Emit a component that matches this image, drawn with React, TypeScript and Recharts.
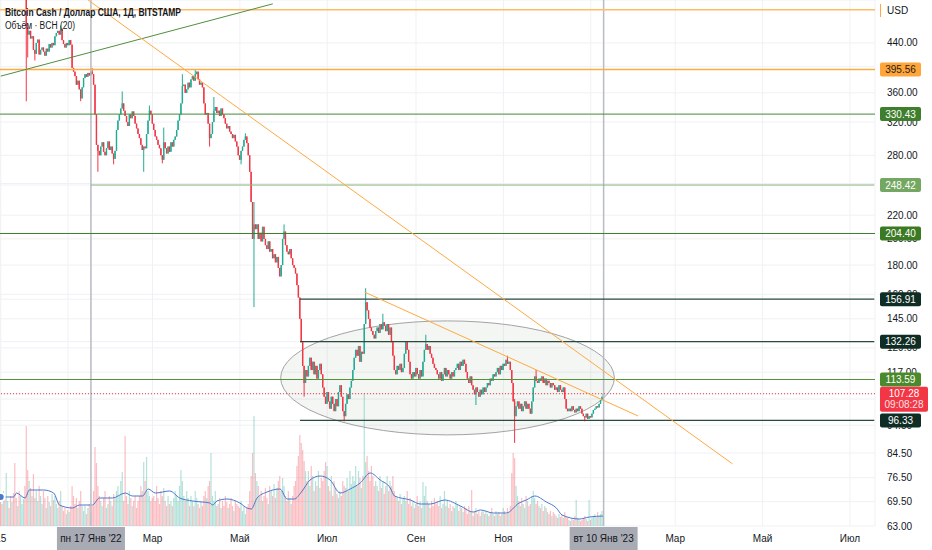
import React from "react";
import {
  ComposedChart,
  Bar,
  Line,
  XAxis,
  YAxis,
  CartesianGrid,
  ReferenceLine,
  ReferenceArea,
} from "recharts";

// дневные свечи BCH/USD, индекс 0 = 15 ноя 2021
const FIRST_OPEN = 622;
const TOTAL_DAYS = 611;

const closes = [
  598, 560, 565, 535, 548, 560, 556, 540, 566,
  555, 538, 530, 540, 532, 548, 560, 572, 545,
  468,
  455, 462, 448, 452, 428, 421, 440, 446, 420, 428,
  432, 425, 418, 430, 425, 438, 432, 440, 436,
  452, 458, 462, 455, 466, 445,
  438, 432, 440, 436, 445, 437,
  398,
  392, 385, 372, 378, 365, 352, 368,
  382, 388, 384, 390, 386, 392, 388,
  372, 330, 292, 285, 280,
  290, 295, 284, 280, 288, 296, 286, 290, 282, 276, 285,
  310, 322, 330, 338, 345, 335, 328,
  320, 315, 330, 325, 334, 328, 318, 312,
  305, 300, 292, 286, 290, 288, 305, 322, 335, 330, 318,
  310, 302, 298, 292, 288, 280, 275, 295, 288, 282, 290, 284,
  295, 290, 298, 302, 310, 322, 330,
  345, 370, 372, 360, 365, 375, 368,
  380, 385, 378, 388, 392, 380, 372, 375, 368,
  345, 330, 332, 318, 300, 305, 320, 335, 340, 332,
  335, 328, 338, 330, 325, 318, 312, 315, 308, 305, 300, 304, 296, 290,
  280, 275, 285, 290, 298, 302, 294, 280, 262, 232, 200, 212,
  208, 212, 200, 205, 198, 210, 200, 195, 192, 198, 190,
  192, 185, 188, 182, 186, 178, 172, 180, 200, 206,
  195, 190, 188, 192, 185, 180, 178, 174,
  166, 158, 145, 132, 120, 112, 118,
  115, 120, 124, 118, 122, 116, 120, 114, 118, 121, 116,
  110, 106, 103, 108, 104, 101, 106, 103, 100, 105, 102,
  108, 111, 106, 100, 98, 103, 107, 105, 110, 113,
  118, 124, 128, 125, 130, 122, 127, 126, 142, 155,
  150, 145, 140, 138, 136, 134, 138,
  140, 137, 142, 139, 143, 141, 138, 142, 136, 140,
  132, 125, 118, 116, 120, 118, 121, 117, 119,
  126, 132, 128, 122, 116, 114, 117, 115, 119, 116, 114, 118, 115,
  122, 128, 131, 128, 130, 126, 124, 121, 119, 118,
  116, 114, 117, 113, 116, 119, 115, 118, 116,
  114, 117, 115, 118, 119, 121, 118, 122, 120, 123, 121,
  117, 114, 112, 115, 111, 109, 107, 110, 108, 106, 109, 107, 110, 108,
  110, 112, 111, 114, 113, 116, 115, 117, 119, 116, 120, 118, 121,
  120, 123, 121, 122, 118, 112, 104, 98,
  102, 104, 101, 103, 100, 102, 104, 101, 103, 101, 99,
  104, 110, 115, 113, 112, 114, 113, 115, 112, 114, 111, 113,
  112, 110, 112, 111, 109, 110, 108, 111, 109, 108, 110,
  105, 101, 100, 101, 100, 102, 100.5, 99.5, 101, 100, 102, 101,
  99, 98, 97.5, 99, 97, 98, 97.5,
  99, 100.5, 101, 102, 101.5, 103, 104.5, 106, 107.28,
];

// заметные тени (0 = нет)
const wickDays = [18, 19, 24, 42, 56, 64, 68, 79, 85, 100, 104, 113, 114, 127, 136, 146, 149, 168, 171, 177, 198, 212, 240, 255, 267, 297, 332, 354, 359, 374, 408];
const wickHighs = [528, 0, 0, 472, 0, 398, 0, 0, 362, 0, 342, 0, 313, 388, 396, 0, 354, 0, 306, 232, 212, 0, 0, 164, 148, 136, 0, 125, 105, 118, 0];
const wickLows = [348, 415, 410, 0, 348, 0, 262, 270, 0, 262, 0, 271, 0, 0, 0, 290, 0, 270, 0, 152, 0, 106, 96, 0, 0, 0, 102.5, 0, 88, 0, 96];

const volumes = [
  28, 22, 35, 30, 53, 25, 18, 30, 24, 33,
  63, 28, 20, 35, 30, 22, 27, 40,
  100,
  56, 45, 38, 30, 52, 28, 35, 25, 40, 30,
  22, 35, 28, 18, 30, 24, 20, 32, 26,
  30, 22, 18, 25, 35, 20, 15, 18, 12, 16, 14, 20,
  40, 30, 22, 28, 18, 25, 35, 20,
  15, 20, 12, 18, 22, 14, 20,
  35, 79, 63, 40, 30,
  25, 20, 28, 35, 18, 22, 30, 25, 20, 32, 28,
  35, 40, 30, 45, 54, 25, 90,
  30, 22, 35, 28, 20, 25, 30, 18,
  25, 30, 40, 35, 64, 45, 69, 35, 30, 25, 28,
  30, 25, 40, 28, 22, 35, 30, 38, 25, 20, 30, 22,
  25, 20, 28, 35, 30, 25, 40,
  56, 45, 30, 25, 35, 28, 20,
  30, 25, 20, 35, 28, 22, 18, 25, 20,
  30, 35, 28, 40, 45, 73, 30, 25, 35, 20,
  22, 28, 18, 25, 20, 30, 24, 18, 22, 28, 20, 15, 25, 22,
  20, 18, 25, 15, 20, 12, 18, 22, 35,
  50, 73, 110,
  53, 45, 40, 30, 35, 25, 30, 38, 28, 22, 40,
  35, 30, 42, 28, 38, 45, 50, 35, 48, 40,
  30, 25, 35, 28, 22, 30, 40, 45,
  60, 70, 91, 83, 76, 65, 55,
  45, 55, 40, 60, 50, 35, 45, 40, 55, 38, 48,
  45, 55, 64, 60, 40, 35, 50, 30, 45, 38, 32,
  28, 35, 30, 45, 40, 38, 48, 35, 55, 42,
  50, 45, 60, 40, 55, 48, 38, 50,
  133, 64,
  70, 55, 45, 60, 50, 40, 45,
  40, 35, 50, 38, 45, 32, 40, 50, 35, 45,
  40, 50, 35, 30, 28, 25, 32, 22, 28,
  30, 25, 35, 22, 28, 20, 25, 18, 22, 30, 20, 25, 18,
  44, 30, 40, 25, 22, 18, 25, 20, 28, 22,
  25, 20, 30, 18, 22, 35, 20, 25, 18,
  22, 15, 20, 18, 25, 22, 15, 20, 18, 14, 20,
  18, 12, 20, 15, 36, 10, 14, 18, 12, 15, 10, 14, 16, 12,
  15, 12, 10, 14, 18, 12, 10, 15, 12, 14, 10, 12, 18,
  15, 12, 18, 14, 20, 53, 73,
  68, 40, 30, 25, 20, 28, 22, 18, 30, 25, 20, 22,
  30, 35, 28, 22, 25, 20, 18, 22, 15, 20, 18, 14,
  12, 15, 10, 14, 12, 10, 8, 12, 9, 11, 8,
  14, 10, 8, 6, 5, 8, 6, 10, 26, 8, 7, 5,
  6, 8, 10, 7, 5, 26, 6,
  8, 10, 12, 9, 14, 10, 12, 15, 11,
];

// скользящая средняя объёма (20)
const maDays = [0, 9, 11, 17, 20, 30, 37, 41, 50, 55, 64, 69, 78, 87, 92, 99, 103, 108, 118, 125, 134, 146, 148, 151, 158, 167, 172, 175, 179, 186, 195, 200, 205, 210, 216, 223, 230, 237, 244, 251, 258, 265, 272, 275, 286, 293, 300, 310, 321, 330, 335, 344, 353, 362, 367, 373, 381, 388, 392, 404, 411, 421];
const maValues = [29, 29, 33, 28, 36, 36, 33, 21, 18, 21, 21, 28, 28, 33, 30, 30, 37, 33, 35, 28, 25, 23, 21, 25, 27, 23, 18, 17, 28, 34, 37, 27, 27, 34, 46, 50, 46, 33, 37, 43, 53, 46, 38, 30, 26, 22, 22, 26, 20, 14, 16, 13, 13, 23, 26, 30, 24, 18, 11, 7, 9, 10];

const xTicks = [0, 47, 106, 167, 228, 290, 351, 412, 471, 532, 593];
const xTickLabels = ["15", "", "Мар", "Май", "Июл", "Сен", "Ноя", "", "Мар", "Май", "Июл"];
const priceTicks = [440, 400, 360, 320, 280, 250, 220, 200, 180, 160, 145, 129, 117, 105, 94.5, 84.5, 76.5, 69.5, 63];
// метки шкалы, полностью закрытые плашками уровней
const coveredTicks = [400, 250, 105];

// горизонтальные уровни
const levelPrices = [395.56, 330.43, 248.42, 204.4, 156.91, 132.26, 113.59, 96.33];
const levelStart = [0, 0, 63, 0, 209, 209, 0, 209];
const lastPrice = 107.28;
const topLevel = 503;

const FONT = '"Liberation Sans", Arial, sans-serif';
const UP = "#22ab94";
const DOWN = "#f23645";
const levelStyles = [
  { stroke: "#ffac45", width: 1.5, bg: "#ffa53a", fg: "#1e1e1e" },
  { stroke: "#4a8f3c", width: 1, bg: "#3e7e2c", fg: "#ffffff" },
  { stroke: "#8cb87c", width: 1, bg: "#74a862", fg: "#ffffff" },
  { stroke: "#3e7e2c", width: 1, bg: "#3b7a23", fg: "#ffffff" },
  { stroke: "#2b4a3f", width: 1.2, bg: "#0f2d25", fg: "#ffffff" },
  { stroke: "#2b4a3f", width: 1.2, bg: "#0f2d25", fg: "#ffffff" },
  { stroke: "#54923a", width: 1, bg: "#4a8a2c", fg: "#ffffff" },
  { stroke: "#2b4a3f", width: 1.2, bg: "#0f2d25", fg: "#ffffff" },
];

const data = Array.from({ length: TOTAL_DAYS }, (_, i) => {
  const row: any = { i };
  if (i < closes.length) {
    const o = i === 0 ? FIRST_OPEN : closes[i - 1];
    const c = closes[i];
    const k = wickDays.indexOf(i);
    const h = Math.max(o, c, k >= 0 ? wickHighs[k] : 0);
    const l = Math.min(o, c, k >= 0 && wickLows[k] > 0 ? wickLows[k] : Infinity);
    row.o = o;
    row.c = c;
    row.hl = [l, h];
    row.h = h;
    row.l = l;
    row.vol = volumes[i];
    row.up = c >= o;
  }
  return row;
});
maDays.forEach((d, k) => {
  data[d].ma = maValues[k];
});

// плашки уровней рисуются последними тиками, поверх обычных меток
const axisTicks = [...priceTicks, ...levelPrices, lastPrice];

const Candle = (props: any) => {
  const { x, y, width, height, payload } = props;
  if (!payload || payload.o == null || !isFinite(y)) return null;
  const { o, c, h, l } = payload;
  const span = Math.log(h) - Math.log(l);
  const yAt = (v: number) => (span > 0 ? y + (height * (Math.log(h) - Math.log(v))) / span : y);
  const cx = x + width / 2;
  const color = c >= o ? UP : DOWN;
  const top = yAt(Math.max(o, c));
  const bot = yAt(Math.min(o, c));
  return (
    <g>
      <line x1={cx} x2={cx} y1={y} y2={y + height} stroke={color} strokeWidth={1} />
      <rect x={cx - 0.7} y={top} width={1.4} height={Math.max(bot - top, 0.8)} fill={color} />
    </g>
  );
};

const VolumeBar = (props: any) => {
  const { x, y, width, height, payload } = props;
  if (!payload || payload.vol == null || !(height > 0)) return null;
  return (
    <rect
      x={x + width / 2 - 0.6}
      y={y}
      width={1.2}
      height={height}
      fill={payload.up ? "rgba(34,171,148,0.34)" : "rgba(242,54,69,0.32)"}
    />
  );
};

const TimeTick = (props: any) => {
  const { x, y, payload } = props;
  const k = xTicks.indexOf(payload.value);
  return (
    <text x={x} y={y + 8} textAnchor="middle" fontSize={10} fill="#131722" fontFamily={FONT}>
      {k >= 0 ? xTickLabels[k] : ""}
    </text>
  );
};

const PriceTick = (props: any) => {
  const { x, y, payload } = props;
  const v = Number(payload.value);
  const k = levelPrices.indexOf(v);
  if (k >= 0) {
    const s = levelStyles[k];
    return (
      <g>
        <rect x={x - 7} y={y - 7} width={41} height={14} rx={2} fill={s.bg} />
        <text x={x + 13.5} y={y + 3.5} textAnchor="middle" fontSize={10} fill={s.fg} fontFamily={FONT}>
          {v.toFixed(2)}
        </text>
      </g>
    );
  }
  if (v === lastPrice) {
    return (
      <g>
        <rect x={x - 7} y={y - 7} width={48} height={25} rx={2} fill={DOWN} />
        <text x={x + 17} y={y + 3.5} textAnchor="middle" fontSize={10} fill="#fff" fontFamily={FONT}>
          {v.toFixed(2)}
        </text>
        <text x={x + 17} y={y + 14} textAnchor="middle" fontSize={10} fill="#fde2e4" fontFamily={FONT}>
          09:08:28
        </text>
      </g>
    );
  }
  if (coveredTicks.includes(v)) return <g />;
  return (
    <text x={x} y={y + 3.5} textAnchor="start" fontSize={10} fill="#131722" fontFamily={FONT}>
      {v.toFixed(2)}
    </text>
  );
};

const dateBox = (text: string) => (props: any) => {
  const vb = props.viewBox;
  const bottom = vb.y + vb.height;
  return (
    <g>
      <rect x={vb.x - 34} y={bottom + 1} width={68} height={23} fill="#a8abb4" />
      <text x={vb.x} y={bottom + 16} textAnchor="middle" fontSize={10} fill="#131722" fontFamily={FONT}>
        {text}
      </text>
    </g>
  );
};

const Ellipse = (props: any) => {
  const { x, y, width, height } = props;
  return (
    <ellipse
      cx={x + width / 2}
      cy={y + height / 2}
      rx={width / 2}
      ry={height / 2}
      fill="rgba(140,165,140,0.1)"
      stroke="#a3a3a3"
      strokeWidth={1}
    />
  );
};

export default function App() {
  return (
    <div style={{ position: "relative", width: 932, height: 550, background: "#fff", fontFamily: FONT }}>
      <style>{"body{margin:0}"}</style>
      <ComposedChart
        width={932}
        height={550}
        data={data}
        margin={{ top: 0, right: 0, bottom: 0, left: 0 }}
        barCategoryGap={0}
        barGap={0}
      >
        <XAxis
          xAxisId="p"
          dataKey="i"
          type="category"
          ticks={xTicks}
          interval={0}
          tick={<TimeTick />}
          tickLine={false}
          axisLine={false}
          height={24}
        />
        <XAxis xAxisId="v" dataKey="i" type="category" hide />
        <YAxis
          yAxisId="p"
          type="number"
          orientation="right"
          scale="log"
          domain={[63, 523]}
          allowDataOverflow
          ticks={axisTicks}
          interval={0}
          tick={<PriceTick />}
          tickLine={false}
          axisLine={false}
          tickMargin={6}
          width={57}
        />
        <YAxis yAxisId="v" type="number" domain={[0, 526]} hide />
        <CartesianGrid xAxisId="p" yAxisId="p" stroke="#f0f1f4" />

        <ReferenceArea
          xAxisId="p"
          yAxisId="p"
          x1={196}
          x2={428}
          y1={90.9}
          y2={143.8}
          shape={Ellipse}
        />

        <Bar xAxisId="v" yAxisId="v" dataKey="vol" shape={VolumeBar} isAnimationActive={false} />
        <Line
          xAxisId="v"
          yAxisId="v"
          dataKey="ma"
          type="monotone"
          connectNulls
          dot={false}
          stroke="#4a78cc"
          strokeWidth={1}
          isAnimationActive={false}
        />
        <Bar xAxisId="p" yAxisId="p" dataKey="hl" shape={Candle} isAnimationActive={false} />

        <ReferenceLine xAxisId="p" yAxisId="p" x={63} stroke="#b8bbc4" strokeWidth={1.5} label={dateBox("пн 17 Янв '22")} />
        <ReferenceLine xAxisId="p" yAxisId="p" x={421} stroke="#b8bbc4" strokeWidth={1.5} label={dateBox("вт 10 Янв '23")} />

        <ReferenceLine xAxisId="p" yAxisId="p" y={topLevel} stroke="#ffbb66" strokeWidth={1.5} />
        {levelPrices.map((p, k) =>
          levelStart[k] === 0 ? (
            <ReferenceLine
              key={p}
              xAxisId="p"
              yAxisId="p"
              y={p}
              stroke={levelStyles[k].stroke}
              strokeWidth={levelStyles[k].width}
            />
          ) : (
            <ReferenceLine
              key={p}
              xAxisId="p"
              yAxisId="p"
              segment={[
                { x: levelStart[k], y: p },
                { x: TOTAL_DAYS - 1, y: p },
              ]}
              stroke={levelStyles[k].stroke}
              strokeWidth={levelStyles[k].width}
            />
          )
        )}
        <ReferenceLine
          xAxisId="p"
          yAxisId="p"
          y={lastPrice}
          stroke={DOWN}
          strokeDasharray="1 2"
          strokeWidth={1}
        />

        {/* трендовые линии */}
        <ReferenceLine
          xAxisId="p"
          yAxisId="p"
          segment={[
            { x: 0, y: 385 },
            { x: 190, y: 515 },
          ]}
          stroke="#4f8f3f"
          strokeWidth={1}
          ifOverflow="visible"
        />
        <ReferenceLine
          xAxisId="p"
          yAxisId="p"
          segment={[
            { x: 61, y: 523 },
            { x: 511, y: 80.9 },
          ]}
          stroke="#ffa940"
          strokeWidth={1}
          ifOverflow="visible"
        />
        <ReferenceLine
          xAxisId="p"
          yAxisId="p"
          segment={[
            { x: 254, y: 161.5 },
            { x: 445, y: 98.1 },
          ]}
          stroke="#ffa940"
          strokeWidth={1}
          ifOverflow="visible"
        />
      </ComposedChart>

      <svg
        width={932}
        height={40}
        style={{ position: "absolute", left: 0, top: 0, pointerEvents: "none" }}
      >
        <text x={5} y={16} fontSize={10} fontWeight={700} fill="#131722" fontFamily={FONT} textLength={176} lengthAdjust="spacingAndGlyphs">
          Bitcoin Cash / Доллар США, 1Д, BITSTAMP
        </text>
        <text x={5} y={28.5} fontSize={10} fill="#131722" fontFamily={FONT} textLength={70} lengthAdjust="spacingAndGlyphs">
          Объём · BCH (20)
        </text>
        <line x1={880.5} x2={880.5} y1={4} y2={17} stroke="#ffa940" strokeWidth={1} />
        <text x={887} y={14} fontSize={10} fill="#131722" fontFamily={FONT}>
          USD
        </text>
      </svg>
    </div>
  );
}
